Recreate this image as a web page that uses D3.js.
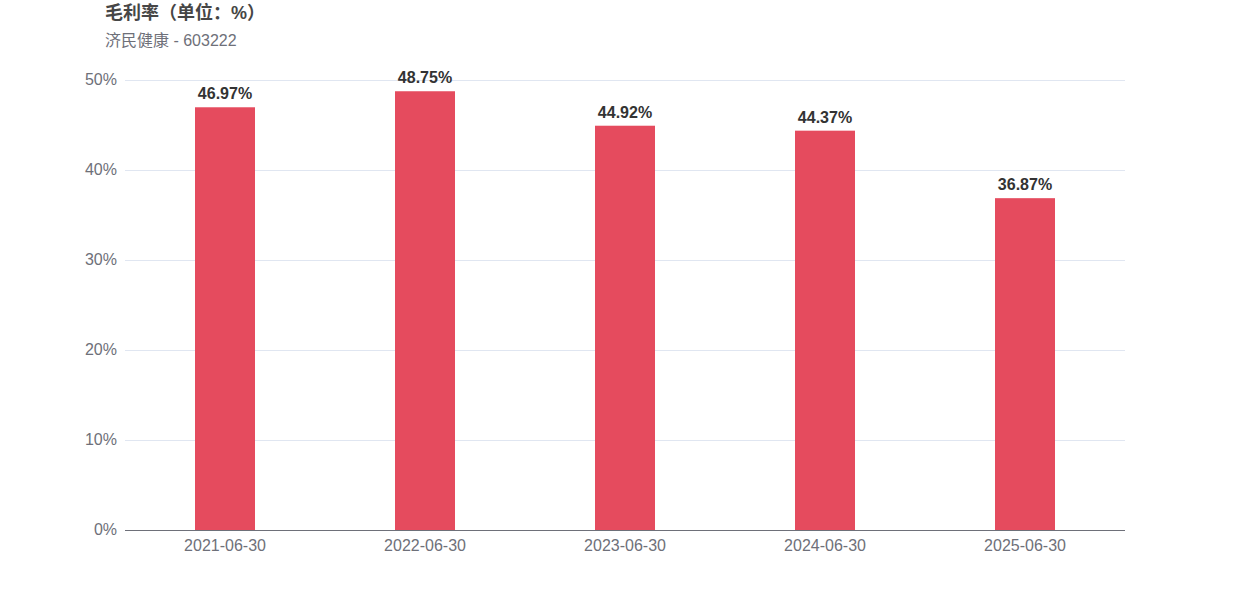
<!DOCTYPE html>
<html><head><meta charset="utf-8">
<script src="https://cdn.jsdelivr.net/npm/d3@7"></script>
<style>body{margin:0;background:#fff;font-family:"Liberation Sans",Arial,"Noto Sans CJK SC",sans-serif;}
.ttl{text-spacing-trim:space-all;font-feature-settings:"halt" 0,"chws" 0;}</style>
</head><body><svg id="c" width="1250" height="600"></svg>
<script>
const categories = ["2021-06-30","2022-06-30","2023-06-30","2024-06-30","2025-06-30"];
const values = [46.97, 48.75, 44.92, 44.37, 36.87];
const yTicks = [0,10,20,30,40,50];
const title = "毛利率（单位：%）";
const subtitle = "济民健康 - 603222";

const svg = d3.select("#c");
const m = {l:125, r:1125, t:80, b:530};
const x = d3.scaleBand().domain(categories).range([m.l, m.r]);
const y = d3.scaleLinear().domain([0,50]).range([m.b, m.t]);
const barW = 60;

svg.append("text").attr("class","ttl").attr("x",105).attr("y",19).attr("font-size",18).attr("font-weight","bold")
  .attr("fill","#464646").text(title);
svg.append("text").attr("x",105).attr("y",46).attr("font-size",16)
  .attr("fill","#6e7079").text(subtitle);

svg.append("g").selectAll("line").data(yTicks.filter(d=>d>0)).join("line")
  .attr("x1",m.l).attr("x2",m.r).attr("y1",d=>y(d)).attr("y2",d=>y(d))
  .attr("stroke","#e0e6f1").attr("stroke-width",1).attr("shape-rendering","crispEdges");

svg.append("g").selectAll("text").data(yTicks).join("text")
  .attr("x",117).attr("y",d=>y(d)-1).attr("dy","0.35em").attr("text-anchor","end")
  .attr("font-size",16).attr("fill","#6e7079").text(d=>d+"%");

svg.append("g").selectAll("rect").data(values).join("rect")
  .attr("x",(d,i)=>x(categories[i])+x.bandwidth()/2-barW/2).attr("width",barW)
  .attr("y",d=>y(d)).attr("height",d=>y(0)-y(d)).attr("fill","#e54b5e");

svg.append("g").selectAll("text").data(values).join("text")
  .attr("x",(d,i)=>x(categories[i])+x.bandwidth()/2).attr("y",d=>y(d)-8)
  .attr("text-anchor","middle").attr("font-size",16).attr("font-weight","bold")
  .attr("fill","#333").text(d=>d.toFixed(2)+"%");

svg.append("line").attr("x1",m.l).attr("x2",m.r).attr("y1",m.b).attr("y2",m.b)
  .attr("stroke","#6e7079").attr("stroke-width",1).attr("shape-rendering","crispEdges");

svg.append("g").selectAll("text").data(categories).join("text")
  .attr("x",d=>x(d)+x.bandwidth()/2).attr("y",551).attr("text-anchor","middle")
  .attr("font-size",16).attr("fill","#6e7079").text(d=>d);
</script></body></html>
